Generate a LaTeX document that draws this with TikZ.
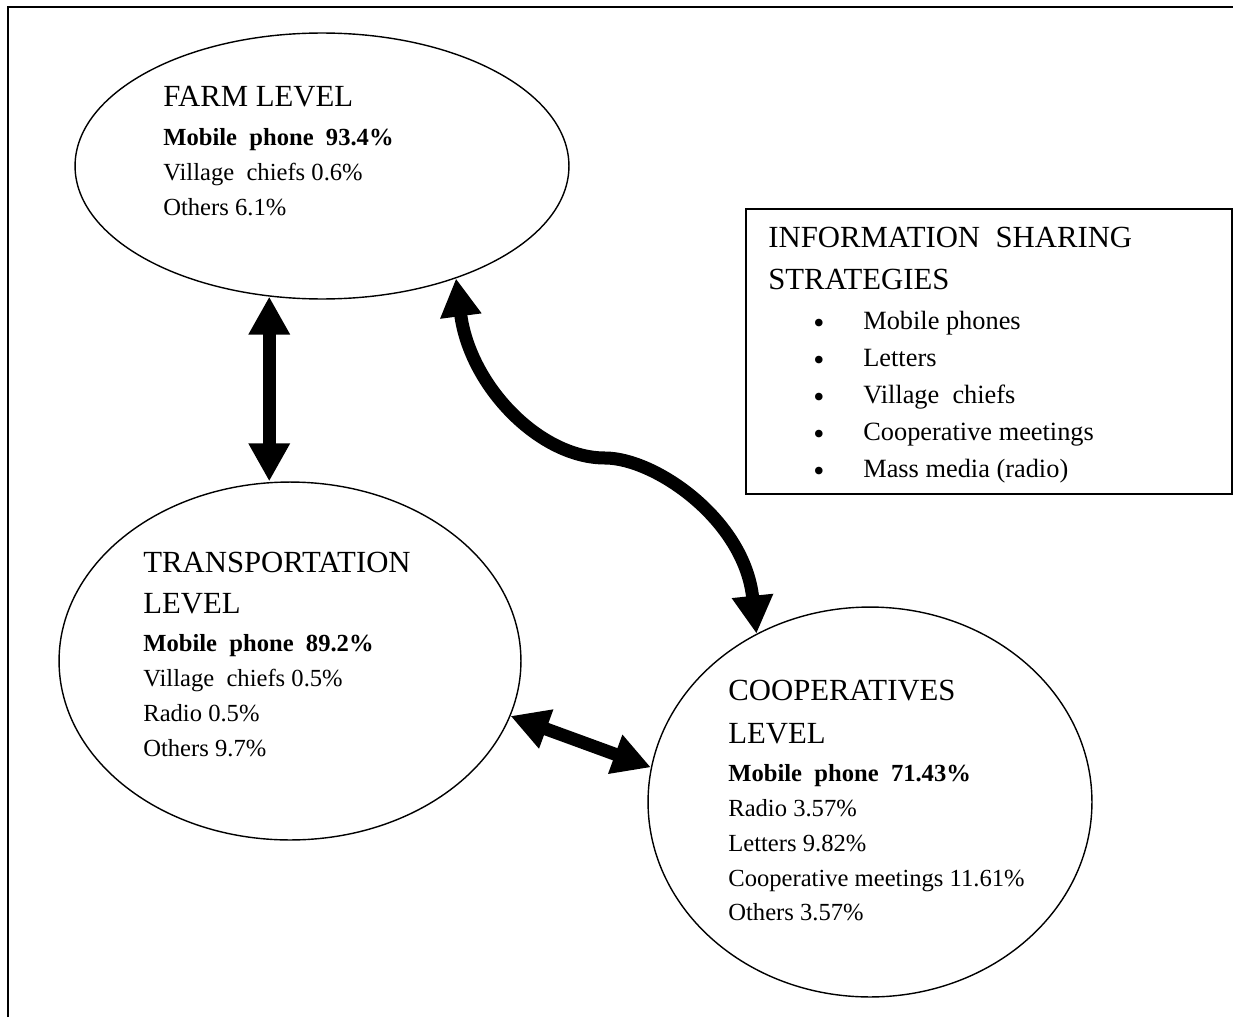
\documentclass[tikz,border=0pt]{standalone}
\usepackage{fontspec}
\setmainfont{Liberation Serif}
\usetikzlibrary{shapes.geometric, arrows.meta}

\newcommand{\ttlfont}{\fontsize{17.5}{19.84}\selectfont}
\newcommand{\stratitem}{\hspace*{0.9cm}\makebox[1cm][l]{\smash{\raisebox{-2.2pt}{\fontsize{18}{18}\selectfont\textbullet}}}}

\begin{document}
\begin{tikzpicture}[x=0.02cm, y=-0.02cm,
  level/.style={draw, ellipse, line width=0.8pt, inner sep=0pt},
  txt/.style={anchor=base west, inner sep=0pt, font=\fontsize{14}{19.84}\selectfont},
  link/.style={line width=7.4pt, {Triangle[length=0.76cm, width=0.78cm]}-{Triangle[length=0.76cm, width=0.78cm]}}]
  \useasboundingbox (0,0) rectangle (1233,1017);
  \draw[line width=1pt] (8,1017) -- (8,7) -- (1233,7);

  % the three levels
  \node[level, minimum width=9.88cm, minimum height=5.32cm] (farm) at (322,166) {};
  \node[level, minimum width=9.24cm, minimum height=7.16cm] (trans) at (290,661) {};
  \node[level, minimum width=8.88cm, minimum height=7.8cm] (coop) at (870,802) {};

  \node[txt] (farmtxt) at (163,107) {\begin{tabular}[t]{@{}l@{}}
    {\ttlfont FARM LEVEL}\\[2.3pt]
    \textbf{Mobile\ \ phone\ \ 93.4\%}\\
    Village\ \ chiefs 0.6\%\\
    Others 6.1\%
  \end{tabular}};
  \node[txt] (transtxt) at (143,572) {\begin{tabular}[t]{@{}l@{}}
    {\ttlfont TRANSPORTATION}\\[4pt]
    {\ttlfont LEVEL}\\[1.7pt]
    \textbf{Mobile\ \ phone\ \ 89.2\%}\\
    Village\ \ chiefs 0.5\%\\
    Radio 0.5\%\\
    Others 9.7\%
  \end{tabular}};
  \node[txt] (cooptxt) at (728,700) {\begin{tabular}[t]{@{}l@{}}
    {\ttlfont COOPERATIVES}\\[5pt]
    {\ttlfont LEVEL}\\[1.7pt]
    \textbf{Mobile\ \ phone\ \ 71.43\%}\\
    Radio 3.57\%\\
    Letters 9.82\%\\
    Cooperative meetings 11.61\%\\
    Others 3.57\%
  \end{tabular}};

  % strategies box
  \node[draw, line width=1pt, anchor=north west, minimum width=9.72cm, minimum height=5.7cm, inner sep=0pt] (strat) at (745,208) {};
  \node[txt, font=\fontsize{15}{21}\selectfont] (strattxt) at (768,247) {\begin{tabular}[t]{@{}l@{}}
    {\ttlfont INFORMATION\ \ SHARING}\\[3.4pt]
    {\ttlfont STRATEGIES}\\[1.7pt]
    \stratitem Mobile phones\\
    \stratitem Letters\\
    \stratitem Village\ \ chiefs\\
    \stratitem Cooperative meetings\\
    \stratitem Mass media (radio)
  \end{tabular}};

  % links
  \coordinate (bend) at (605,458);
  \draw[link] (farm.-112) -- (farm.-112 |- trans.north);
  \draw[link] (trans.-14) -- (coop.171);
  \draw[link] (farm.-40) .. controls +(14,108) and +(-65,0) .. (bend)
    .. controls +(50,0) and +(-12,-114) .. (coop.124);
\end{tikzpicture}
\end{document}
